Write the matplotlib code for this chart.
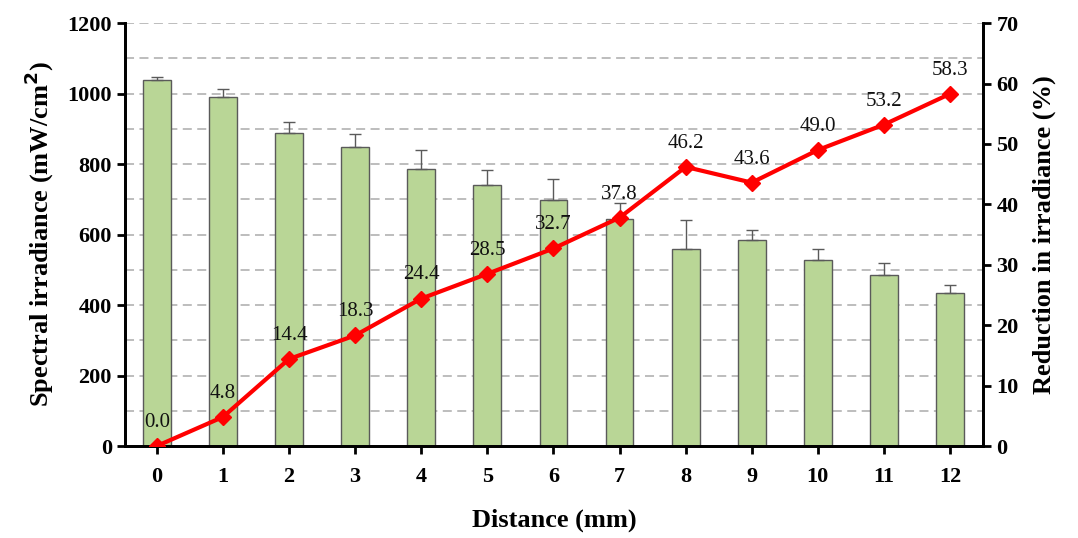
import matplotlib
matplotlib.use("Agg")
import matplotlib.pyplot as plt
import numpy as np

# Distance from the light guide (mm)
distance = [0, 1, 2, 3, 4, 5, 6, 7, 8, 9, 10, 11, 12]
# Spectral irradiance (mW/cm^2) and its standard deviation
irradiance = [1040, 990, 889, 848, 786, 742, 699, 645, 559, 586, 528, 485, 433]
irradiance_sd = [8, 22, 30, 37, 55, 41, 58, 44, 81, 27, 31, 35, 25]
# Reduction in irradiance relative to 0 mm (%)
reduction = [0.0, 4.8, 14.4, 18.3, 24.4, 28.5, 32.7, 37.8, 46.2, 43.6, 49.0, 53.2, 58.3]

serif = ["Liberation Serif", "DejaVu Serif"]
plt.rcParams["font.family"] = serif

fig = plt.figure(figsize=(10.78, 5.38), dpi=100)
ax = fig.add_axes([0.116, 0.171, 0.796, 0.786])
x = np.arange(len(distance))

# Dashed horizontal grid every 100 mW/cm^2
for g in range(100, 1201, 100):
    ax.axhline(g, color="#b8b8b8", lw=1.3, ls=(0, (5, 3)), zorder=0)

ax.bar(x, irradiance, width=0.42, color="#b9d696", edgecolor="#5a5a5a",
       linewidth=1.0, zorder=2)
ax.errorbar(x, irradiance, yerr=[np.zeros(len(x)), irradiance_sd], fmt="none",
            ecolor="#5a5a5a", elinewidth=1.0, capsize=4, capthick=1.0, zorder=2)

ax.set_xlim(-0.48, 12.5)
ax.set_ylim(0, 1200)
ax.set_yticks(range(0, 1201, 200))
ax.set_xticks(x)
ax.set_xticklabels([str(d) for d in distance])

ax2 = ax.twinx()
ax2.plot(x, reduction, color="#ff0000", lw=3, marker="D", markersize=8,
         zorder=5)
for xi, r in zip(x, reduction):
    ax2.annotate(f"{r:.1f}", (xi, r), xytext=(0, 17), textcoords="offset points",
                 ha="center", va="center", fontsize=15, color="#111111")
ax2.set_ylim(0, 70)
ax2.set_yticks(range(0, 71, 10))

for a in (ax, ax2):
    a.spines["top"].set_visible(False)
    for s in ("left", "right", "bottom"):
        a.spines[s].set_linewidth(2)
    a.tick_params(direction="out", width=2, length=6, labelsize=16)
    for lab in a.get_xticklabels() + a.get_yticklabels():
        lab.set_fontweight("bold")
ax.tick_params(axis="x", pad=9)

ax.set_xlabel("Distance (mm)", fontsize=19, fontweight="bold", labelpad=16)
ax.set_ylabel("Spectral irradiance (mW/cm$^\\mathbf{2}$)", fontsize=19,
              fontweight="bold", labelpad=8)
ax2.set_ylabel("Reduction in irradiance (%)", fontsize=19, fontweight="bold",
               labelpad=10)

ax.set_zorder(1)
ax2.set_zorder(2)
ax.patch.set_visible(False)

fig.savefig("out.png", dpi=100)
